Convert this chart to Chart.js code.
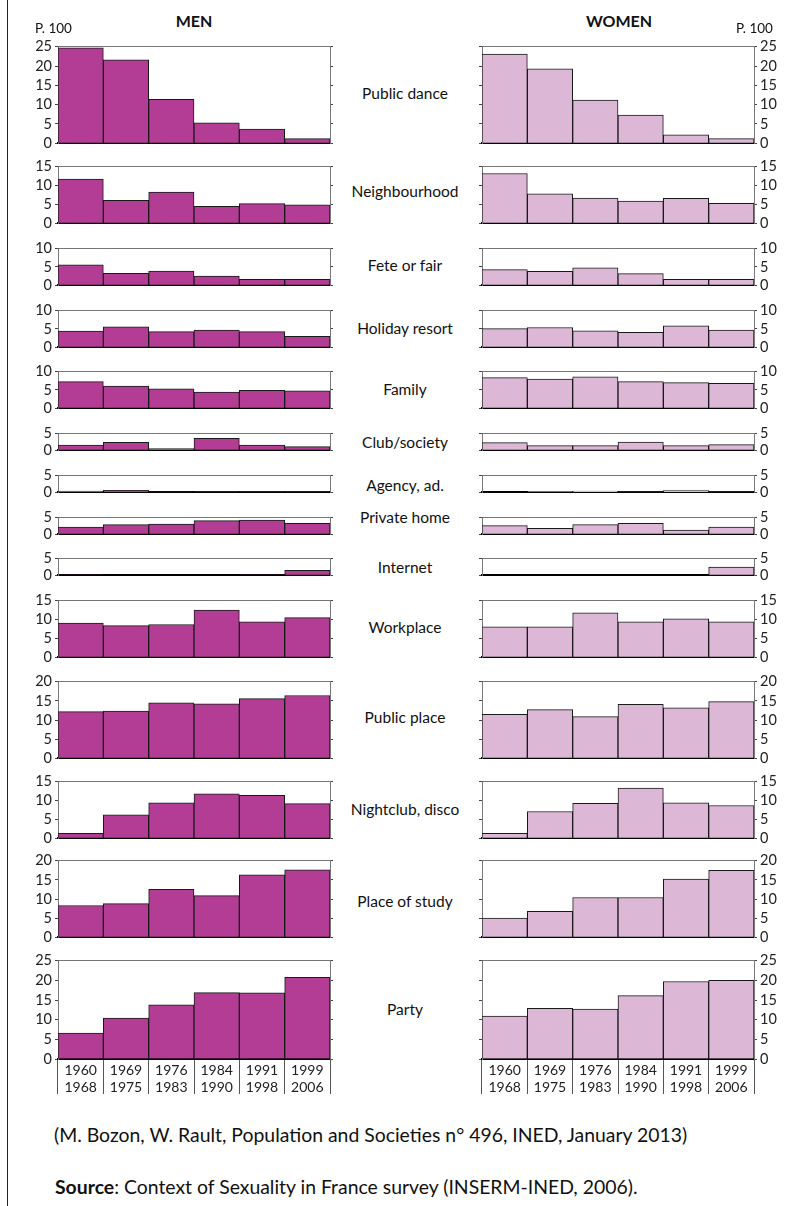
<!DOCTYPE html>
<html><head><meta charset="utf-8">
<script src="https://cdn.jsdelivr.net/npm/chart.js@4.4.0/dist/chart.umd.min.js"></script>
<style>
html,body{margin:0;padding:0;background:#fff}
body{width:801px;height:1206px;position:relative;overflow:hidden;font-family:Lato,"Open Sans",sans-serif;color:#111}
.t{position:absolute;white-space:nowrap;transform:translate(-50%,-50%)}
.l{position:absolute;white-space:nowrap;transform:translate(0,-50%)}
canvas{position:absolute}
#frame{position:absolute;left:7px;top:0;width:0;height:1206px;border-left:1.5px solid #222}
</style></head><body>
<div id="frame"></div>
<script>
// ---- data ----
const periods = [['1960','1968'],['1969','1975'],['1976','1983'],['1984','1990'],['1991','1998'],['1999','2006']];
const places = ['Public dance','Neighbourhood','Fete or fair','Holiday resort','Family','Club/society','Agency, ad.','Private home','Internet','Workplace','Public place','Nightclub, disco','Place of study','Party'];
const axisMax = [25,15,10,10,10,5,5,5,5,15,20,15,20,25];

const menPublicDance   = [24.7, 21.6, 11.4, 5.3, 3.7, 1.2];
const womenPublicDance = [23.1, 19.3, 11.2, 7.3, 2.2, 1.2];
const menNeighbourhood   = [11.7, 6.1, 8.3, 4.5, 5.2, 4.9];
const womenNeighbourhood = [13.2, 7.8, 6.7, 5.9, 6.6, 5.3];
const menFete   = [5.6, 3.3, 3.9, 2.5, 1.6, 1.6];
const womenFete = [4.3, 3.8, 4.8, 3.2, 1.6, 1.6];
const menHoliday   = [4.4, 5.6, 4.3, 4.7, 4.3, 3.0];
const womenHoliday = [5.1, 5.4, 4.5, 4.1, 5.9, 4.7];
const menFamily   = [7.3, 6.1, 5.3, 4.4, 4.9, 4.8];
const womenFamily = [8.4, 8.0, 8.6, 7.3, 7.0, 6.8];
const menClub   = [1.6, 2.4, 0.5, 3.6, 1.6, 1.1];
const womenClub = [2.3, 1.4, 1.4, 2.5, 1.4, 1.7];
const menAgency   = [0.4, 0.6, 0.05, 0.2, 0.2, 0.2];
const womenAgency = [0, 0.25, 0.4, 0.05, 0.5, 0.15];
const menPrivateHome   = [2.2, 2.9, 3.1, 4.1, 4.3, 3.3];
const womenPrivateHome = [2.6, 1.8, 2.9, 3.3, 1.3, 2.2];
const menInternet   = [0.1, 0, 0, 0, 0.1, 1.5];
const womenInternet = [0, 0, 0, 0, 0, 2.5];
const menWorkplace   = [9.1, 8.4, 8.7, 12.5, 9.4, 10.5];
const womenWorkplace = [8.1, 8.1, 11.8, 9.4, 10.2, 9.4];
const menPublicPlace   = [12.2, 12.3, 14.5, 14.2, 15.6, 16.4];
const womenPublicPlace = [11.5, 12.7, 10.9, 14.1, 13.2, 14.8];
const menNightclub   = [1.3, 6.2, 9.4, 11.8, 11.4, 9.2];
const womenNightclub = [1.3, 7.1, 9.3, 13.3, 9.4, 8.7];
const menStudy   = [8.3, 8.8, 12.5, 10.9, 16.3, 17.6];
const womenStudy = [5.0, 6.8, 10.4, 10.4, 15.2, 17.5];
const menParty   = [6.6, 10.4, 13.8, 16.9, 16.8, 20.8];
const womenParty = [10.9, 12.9, 12.7, 16.1, 19.7, 20.0];

const menSeries = [menPublicDance, menNeighbourhood, menFete, menHoliday, menFamily, menClub, menAgency, menPrivateHome, menInternet, menWorkplace, menPublicPlace, menNightclub, menStudy, menParty];
const womenSeries = [womenPublicDance, womenNeighbourhood, womenFete, womenHoliday, womenFamily, womenClub, womenAgency, womenPrivateHome, womenInternet, womenWorkplace, womenPublicPlace, womenNightclub, womenStudy, womenParty];

// ---- layout ----
const plotTops = [45,165,247,309,370,432,474,516,557,599,680,780,859,959];
const labelYs  = [93,191,265,328,389,442,485,517,567,627,717,809,901,1009];
const PX_PER_UNIT = 4;
const PLOT_W = 272;
const MEN_LEFT = 58, WOMEN_LEFT = 482;
const YW = 30, OW = 4;
const FONT = 'Lato';

function addText(cls, x, y, html, style){
  const d = document.createElement('div');
  d.className = cls; d.style.left = x+'px'; d.style.top = y+'px';
  d.innerHTML = html; if (style) d.style.cssText += style;
  document.body.appendChild(d);
}

function makePanel(side, i){
  const men = side === 'men';
  const M = axisMax[i];
  const plotH = M * PX_PER_UNIT;
  const isLast = i === places.length - 1;
  const padT = 10, padB = isLast ? 0 : 10, xH = isLast ? 36 : 0;
  const plotLeft = men ? MEN_LEFT : WOMEN_LEFT;
  const cv = document.createElement('canvas');
  const w = YW + PLOT_W + OW, h = padT + plotH + xH + padB;
  cv.width = w; cv.height = h;
  cv.style.width = w+'px'; cv.style.height = h+'px';
  cv.style.left = (men ? plotLeft - YW : plotLeft - OW) + 'px';
  cv.style.top = (plotTops[i] - padT) + 'px';
  document.body.appendChild(cv);
  new Chart(cv, {
    type: 'bar',
    data: { labels: periods, datasets: [{
      data: (men ? menSeries : womenSeries)[i],
      backgroundColor: men ? '#b33c95' : '#ddb7d6',
      borderColor: '#1a1a1a', borderWidth: 1,
      barPercentage: 1, categoryPercentage: 1, borderSkipped: 'bottom'
    }]},
    options: {
      responsive: false, animation: false, devicePixelRatio: 1,
      layout: { padding: { top: padT, bottom: padB, left: 0, right: 0 } },
      plugins: { legend: { display: false }, tooltip: { enabled: false } },
      scales: {
        x: {
          type: 'category', position: 'bottom', offset: true, z: 1,
          grid: { display: isLast, offset: true, drawOnChartArea: false, drawTicks: true, tickLength: 35, color: '#555', lineWidth: 1 },
          border: { display: true, color: '#000', width: 2 },
          ticks: { display: isLast, padding: -32, autoSkip: false, maxRotation: 0, color: '#222',
                   font: { family: FONT, size: 14, lineHeight: 1.22 } },
          afterFit: s => { s.height = xH; }
        },
        xTop: {
          type: 'category', position: 'top', offset: true,
          grid: { display: false }, ticks: { display: false },
          border: { display: true, color: '#777', width: 1 },
          afterFit: s => { s.height = 0; }
        },
        y: {
          position: men ? 'left' : 'right', min: 0, max: M,
          ticks: { stepSize: 5, autoSkip: false, padding: 3, color: '#222', font: { family: FONT, size: 14.5 } },
          grid: { display: true, drawOnChartArea: false, drawTicks: true, tickLength: 3, color: '#444' },
          border: { display: true, color: '#777', width: 1 },
          afterFit: s => { s.width = YW; }
        },
        y2: {
          position: men ? 'right' : 'left', min: 0, max: M,
          ticks: { stepSize: 5, display: false },
          grid: { display: true, drawOnChartArea: false, drawTicks: true, tickLength: 3, color: '#444' },
          border: { display: true, color: '#777', width: 1 },
          afterFit: s => { s.width = OW; }
        }
      }
    }
  });
}

for (let i = 0; i < places.length; i++) {
  makePanel('men', i);
  makePanel('women', i);
  addText('t', 405, labelYs[i], places[i], 'font-size:15.5px;');
}

addText('t', 194, 20, 'MEN', 'font-size:16px;font-weight:700;');
addText('t', 619, 20, 'WOMEN', 'font-size:16px;font-weight:700;');
addText('l', 35, 28, 'P. 100', 'font-size:13.5px;');
addText('l', 736, 28, 'P. 100', 'font-size:13.5px;');
addText('l', 54, 1134, '(M. Bozon, W. Rault, Population and Societies n° 496, INED, January 2013)', 'font-size:19.4px;');
addText('l', 55, 1186, '<b>Source</b>: Context of Sexuality in France survey (INSERM-INED, 2006).', 'font-size:19.4px;');
</script>
</body></html>
